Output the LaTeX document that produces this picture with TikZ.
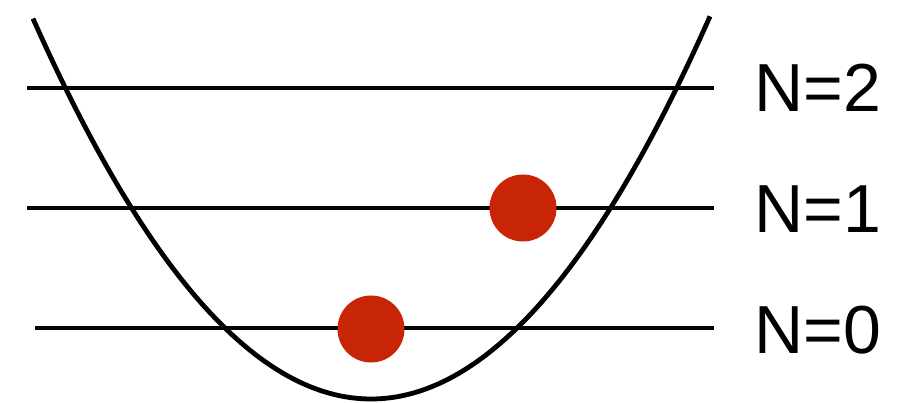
\documentclass[tikz,border=0pt]{standalone}
\usepackage{fontspec}
\setmainfont{Liberation Sans}
\definecolor{ballred}{RGB}{200,37,6}
\begin{document}
\begin{tikzpicture}[x=1pt,y=-1pt,
  level/.style={line width=4.8pt},
  well/.style={line width=4.8pt},
  ball/.style={circle,fill=ballred,minimum size=67pt,inner sep=0pt},
  lab/.style={anchor=base west,inner sep=0pt,font=\fontsize{68}{68}\selectfont}]
\useasboundingbox (0,0) rectangle (905,403);
% energy levels
\coordinate (l2a) at (27,88);  \coordinate (l2b) at (714,88);
\coordinate (l1a) at (27,208); \coordinate (l1b) at (714,208);
\coordinate (l0a) at (35,328); \coordinate (l0b) at (714,328);
\draw[level] (l2a) -- (l2b);
\draw[level] (l1a) -- (l1b);
\draw[level] (l0a) -- (l0b);
% potential well
\draw[well] plot[domain=33:710,samples=120] (\x,{399-33.3*((\x-371)/100)^2});
% particles
\node[ball] (b1) at (523,208) {};
\node[ball] (b0) at (371,329) {};
% labels
\node[lab] (t2) at (754,112) {N=2};
\node[lab] (t1) at (754,233) {N=1};
\node[lab] (t0) at (754,353) {N=0};
\end{tikzpicture}
\end{document}
